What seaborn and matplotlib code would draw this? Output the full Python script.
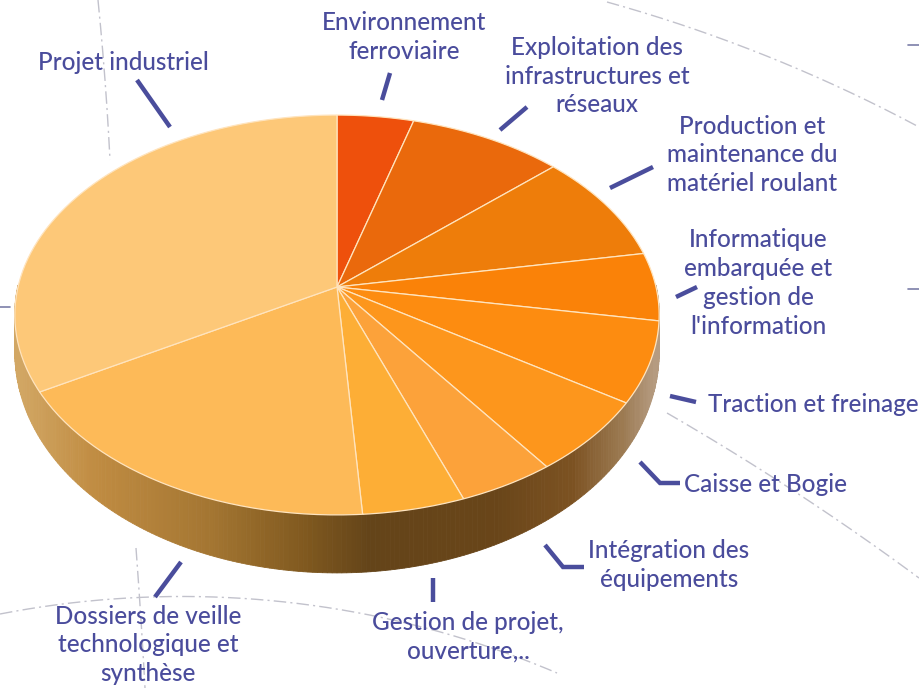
import numpy as np
import pandas as pd
import seaborn as sns
import matplotlib
matplotlib.use("Agg")
import matplotlib.pyplot as plt
from matplotlib.transforms import Transform, Affine2D
from matplotlib.path import Path
from matplotlib.colors import LinearSegmentedColormap

# ---------------- data ----------------
categories = [
    "Environnement\nferroviaire",
    "Exploitation des\ninfrastructures et\nréseaux",
    "Production et\nmaintenance du\nmatériel roulant",
    "Informatique\nembarquée et\ngestion de\nl'information",
    "Traction et freinage",
    "Caisse et Bogie",
    "Intégration des\néquipements",
    "Gestion de projet,\nouverture,..",
    "Dossiers de veille\ntechnologique et\nsynthèse",
    "Projet industriel",
]
values = [4.4, 8.9, 8.9, 5.5, 6.5, 5.9, 4.3, 4.5, 17.8, 33.3]
slice_colors = ["#EE500C", "#EA690C", "#EE7D0A", "#FA8208", "#FD8C10",
                "#FD961C", "#FCA23A", "#FDAE36", "#FDBA58", "#FDC878"]

df = pd.DataFrame({"category": categories, "value": values, "color": slice_colors})

# ---------------- layout (pixels) ----------------
label_pos = [(404, 37), (597, 76), (752, 155), (758, 283), (813, 404),
             (766, 485), (669, 565), (468, 637), (148, 645), (123, 62)]
leaders = [
    [(390, 73), (382, 100)],
    [(527, 107), (500, 130)],
    [(653, 167), (610, 188)],
    [(697, 287), (676, 297)],
    [(670, 396), (696, 402)],
    [(640, 462), (660, 483), (680, 483)],
    [(545, 545), (563, 567), (584, 567)],
    [(433, 578), (433, 602)],
    [(181, 562), (155, 597)],
    [(137, 80), (170, 127)],
]
deco_arcs = [
    ((607, 2), (733, 43), (919, 127)),
    ((667, 413), (800, 495), (919, 578)),
    ((0, 614), (214, 597), (557, 673)),
    ((98, 0), (105, 80), (110, 160)),
    ((136, 548), (141, 620), (145, 688)),
]
small_ticks = [[(908, 45), (919, 45)], [(908, 289), (919, 289)], [(0, 307), (10, 307)]]

CX, CY, A, B, C = 337.0, 287.0, 319.0, 196.0, 0.14
TEXT_COLOR = "#4A4C9C"
LINE_COLOR = "#4A4D9C"


def project(u, v):
    u = np.asarray(u, float)
    v = np.asarray(v, float)
    d = 1.0 + C * v
    return np.column_stack([CX + A * u / d, CY - B * v / d])


class PerspectiveTransform(Transform):
    input_dims = 2
    output_dims = 2
    is_separable = False
    has_inverse = False

    def transform_non_affine(self, values):
        xy = np.asarray(values, dtype=float)
        single = xy.ndim == 1
        xy = xy.reshape(-1, 2)
        out = project(xy[:, 0], xy[:, 1])
        return out[0] if single else out

    def transform_path_non_affine(self, path):
        polys = path.to_polygons(transform=Affine2D().scale(1000.0), closed_only=True)
        verts, codes = [], []
        for poly in polys:
            poly = np.asarray(poly) / 1000.0
            verts.append(self.transform_non_affine(poly))
            c = np.full(len(poly), Path.LINETO, dtype=np.uint8)
            c[0] = Path.MOVETO
            codes.append(c)
        if not verts:
            return path
        return Path(np.concatenate(verts), np.concatenate(codes))


def circle_arc(p1, p2, p3, n=200):
    (x1, y1), (x2, y2), (x3, y3) = p1, p2, p3
    a = np.array([[x2 - x1, y2 - y1], [x3 - x1, y3 - y1]], float)
    if abs(np.linalg.det(a)) < 1e-6:
        return np.array([x1, x3]), np.array([y1, y3])
    b = 0.5 * np.array([x2**2 - x1**2 + y2**2 - y1**2, x3**2 - x1**2 + y3**2 - y1**2])
    cx, cy = np.linalg.solve(a, b)
    r = np.hypot(x1 - cx, y1 - cy)
    t1 = np.arctan2(y1 - cy, x1 - cx)
    t2 = np.arctan2(y2 - cy, x2 - cx)
    t3 = np.arctan2(y3 - cy, x3 - cx)
    d2 = (t2 - t1) % (2 * np.pi)
    d3 = (t3 - t1) % (2 * np.pi)
    if d2 < d3:
        tt = t1 + np.linspace(0, d3, n)
    else:
        tt = t1 - np.linspace(0, 2 * np.pi - d3, n)
    return cx + r * np.cos(tt), cy + r * np.sin(tt)


sns.set_theme(style="white")
plt.rcParams["font.family"] = ["Lato", "DejaVu Sans"]

fig = plt.figure(figsize=(9.19, 6.88), dpi=100)
ax = fig.add_axes([0, 0, 1, 1])

# decorative background dash-dot curves
for p1, p2, p3 in deco_arcs:
    xs, ys = circle_arc(p1, p2, p3)
    ax.plot(xs, ys, color="#C2C2CC", lw=1.0, dashes=(9, 3, 1.5, 3), zorder=0)
for seg in small_ticks:
    ax.plot([seg[0][0], seg[1][0]], [seg[0][1], seg[1][1]], color="#7C7EA8", lw=1.2, zorder=0)

# side wall (3D depth), gradient by horizontal position
side_cmap = LinearSegmentedColormap.from_list("side", [
    (0.0, "#D2A764"), (0.12, "#C08C42"), (0.3, "#A47632"), (0.45, "#80591F"),
    (0.55, "#644419"), (0.75, "#694519"), (0.87, "#7C5222"), (0.95, "#9C7A52"),
    (1.0, "#B59B80")])
ts = np.radians(np.linspace(180, 360, 241))
top = project(np.cos(ts), np.sin(ts))
depth = 34 + 24 * (-np.sin(ts))
xmin, xmax = CX - A, CX + A
for i in range(len(ts) - 1):
    xa, ya = top[i]
    xb, yb = top[i + 1]
    poly_x = [xa, xb, xb, xa]
    poly_y = [ya - 2, yb - 2, yb + depth[i + 1], ya + depth[i]]
    xm = 0.5 * (xa + xb)
    col = side_cmap(np.clip((xm - xmin) / (xmax - xmin), 0, 1))
    ax.fill(poly_x, poly_y, color=col, lw=0.6, ec=col, zorder=1)

# top face (pie)
wedges, _ = ax.pie(df["value"], colors=df["color"], startangle=90, counterclock=False,
                   radius=1.0, center=(0, 0), frame=False,
                   wedgeprops=dict(edgecolor="#FFE4BE", linewidth=0.9))
persp = PerspectiveTransform()
for w in wedges:
    w.set_transform(persp + ax.transData)
    w.set_zorder(3)

# labels and leader lines
for lab, (lx, ly), seg in zip(df["category"], label_pos, leaders):
    ax.text(lx, ly, lab, ha="center", va="center", fontsize=17.5, color=TEXT_COLOR,
            fontweight="medium", linespacing=1.3, zorder=5)
    xs = [p[0] for p in seg]
    ys = [p[1] for p in seg]
    ax.plot(xs, ys, color=LINE_COLOR, lw=3.2, solid_capstyle="butt",
            solid_joinstyle="miter", zorder=5)

ax.set_xlim(0, 919)
ax.set_ylim(688, 0)
ax.set_aspect("auto")
ax.axis("off")
fig.savefig("out.png", dpi=100, facecolor="white")
